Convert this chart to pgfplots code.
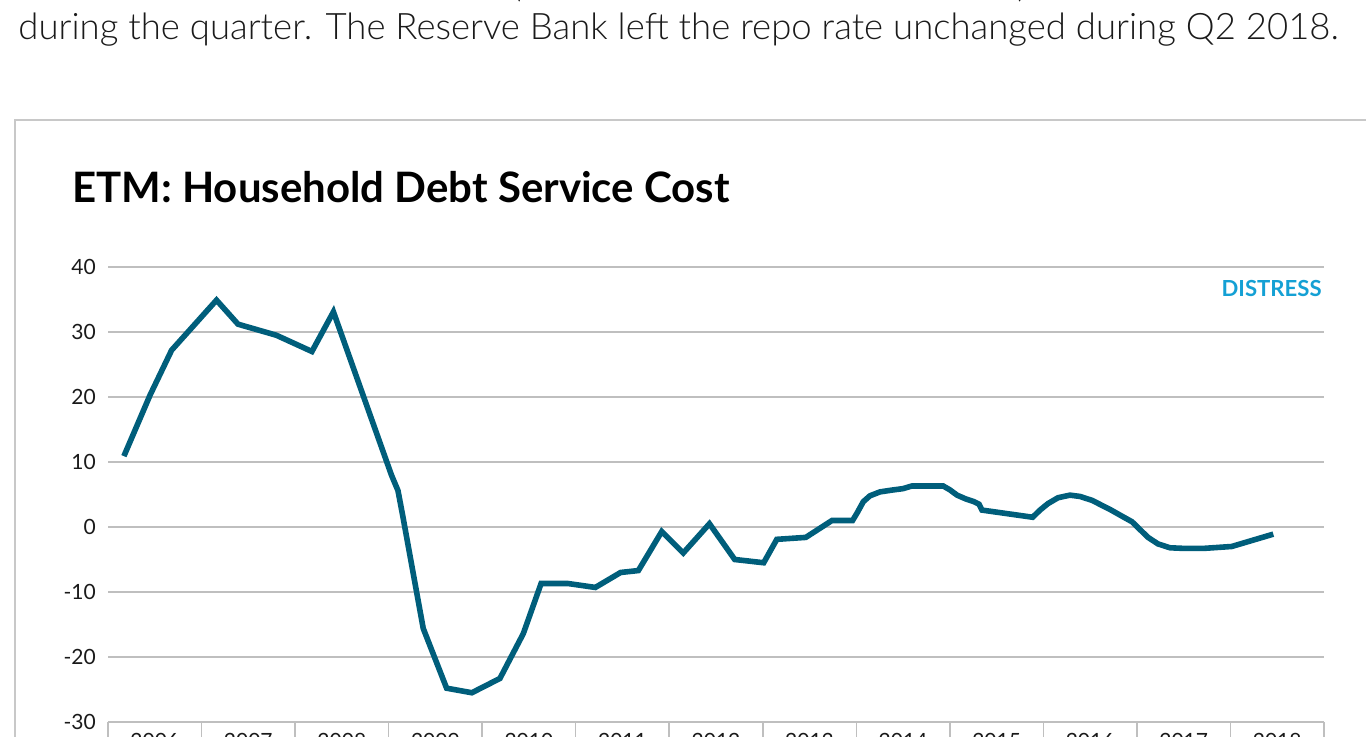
\documentclass[border=0pt]{standalone}
\usepackage{pgfplots}
\pgfplotsset{compat=1.18}
\usepackage{fontspec}
\setmainfont{Lato}
\newfontfamily\lightfont{Lato Light}
\definecolor{lineblue}{HTML}{005E7B}
\definecolor{distress}{HTML}{14A0D4}
\definecolor{gridgray}{HTML}{BFBFBF}
\definecolor{framegray}{HTML}{C8C8C8}
\definecolor{txt}{HTML}{1A1A1A}
\begin{document}
\begin{tikzpicture}[x=0.5pt,y=0.5pt]
% frame of the chart box
\draw[framegray, line width=0.75pt] (15,-20) -- (15,617) -- (1400,617);
% body text line (cut-off line above)
\node[anchor=base west, inner sep=0pt, text=txt] at (18,697) {\resizebox{660pt}{!}{\lightfont during the quarter. The Reserve Bank left the repo rate unchanged during Q2 2018.}};
\node[anchor=base, inner sep=0pt, text=txt] at (517,739) {\fontsize{17}{20}\selectfont\lightfont (};
\node[anchor=base, inner sep=0pt, text=txt] at (1022,739) {\fontsize{17}{20}\selectfont\lightfont )};
% title
\node[anchor=base west, inner sep=0pt, text=black] at (72,534) {\resizebox{328.5pt}{!}{\bfseries ETM: Household Debt Service Cost}};
% DISTRESS label
\node[anchor=base east, inner sep=0pt] at (1322,440) {\resizebox{50pt}{!}{\color{distress}\bfseries DISTRESS}};
\begin{axis}[
  at={(54pt,7.5pt)}, anchor=south west,
  scale only axis, width=608pt, height=227.5pt,
  xmin=2006, xmax=2019, ymin=-30, ymax=40,
  axis line style={draw=none},
  ytick={-30,-20,-10,0,10,20,30,40},
  yticklabels={-30,-20,-10,0,10,20,30,40},
  ymajorgrids,
  major grid style={gridgray, line width=0.75pt},
  ytick style={draw=none},
  yticklabel style={anchor=east, inner sep=0pt, xshift=16pt, font=\fontsize{10.5}{12}\selectfont, text=txt},
  xtick={2006,2007,2008,2009,2010,2011,2012,2013,2014,2015,2016,2017,2018,2019},
  xticklabels={},
  xtick pos=bottom,
  tick align=outside,
  xtick style={gridgray, line width=0.75pt},
  major tick length=22pt,
  extra x ticks={2006.5,2007.5,2008.5,2009.5,2010.5,2011.5,2012.5,2013.5,2014.5,2015.5,2016.5,2017.5,2018.5},
  extra x tick labels={2006,2007,2008,2009,2010,2011,2012,2013,2014,2015,2016,2017,2018},
  extra x tick style={major tick length=0pt, grid=none},
  xticklabel style={anchor=north, inner sep=0pt, yshift=-5.5pt, font=\fontsize{10.5}{12}\selectfont, text=txt},
  clip=false,
]
\addplot[lineblue, line width=2.8pt] coordinates {
(2006.17,10.9) (2006.45,20.3) (2006.68,27.2) (2007.16,34.9) (2007.39,31.2)
(2007.80,29.5) (2008.18,27.0) (2008.41,33.1) (2009.03,8.0) (2009.10,5.6)
(2009.15,1.8) (2009.37,-15.6) (2009.62,-24.8) (2009.89,-25.5) (2010.19,-23.3)
(2010.44,-16.4) (2010.63,-8.7) (2010.92,-8.7) (2011.21,-9.3) (2011.48,-7.0)
(2011.67,-6.7) (2011.92,-0.7) (2012.15,-4.0) (2012.43,0.5) (2012.70,-5.0)
(2013.01,-5.5) (2013.15,-1.9) (2013.46,-1.6) (2013.74,1.0) (2013.96,1.0)
(2014.01,2.2) (2014.075,3.9) (2014.146,4.8) (2014.253,5.4) (2014.392,5.7)
(2014.499,5.9) (2014.592,6.3) (2014.930,6.3) (2015.002,5.7) (2015.077,4.9)
(2015.173,4.3) (2015.258,3.9) (2015.312,3.5) (2015.344,2.6) (2015.885,1.5)
(2015.964,2.6) (2016.049,3.6) (2016.156,4.5) (2016.284,4.9) (2016.391,4.7)
(2016.520,4.1) (2016.712,2.7) (2016.873,1.4) (2016.948,0.8) (2017.033,-0.4)
(2017.119,-1.6) (2017.225,-2.6) (2017.354,-3.2) (2017.514,-3.3) (2017.706,-3.3)
(2018.013,-3.0) (2018.458,-1.1)
};
\end{axis}
\pgfresetboundingbox
\path (0,0) rectangle (1366,737);
\end{tikzpicture}
\end{document}
